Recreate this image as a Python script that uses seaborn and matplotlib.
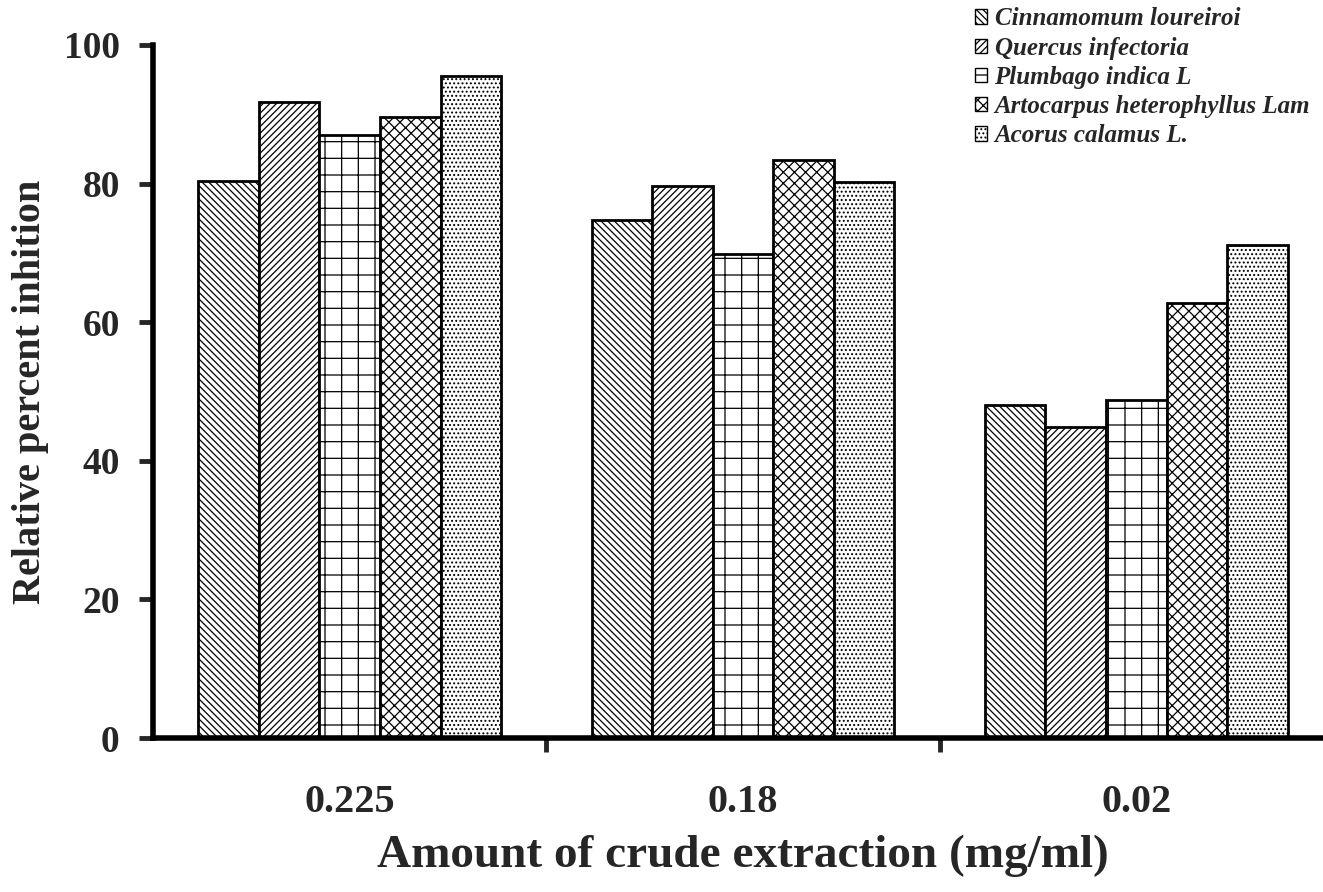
import numpy as np
import pandas as pd
import matplotlib
matplotlib.use('Agg')
import matplotlib.pyplot as plt
import seaborn as sns
from matplotlib.patches import Patch

# data
amounts = ['0.225', '0.18', '0.02']
species = ['Cinnamomum loureiroi', 'Quercus infectoria', 'Plumbago indica L',
           'Artocarpus heterophyllus Lam', 'Acorus calamus L.']
cinnamomum = [80.4, 74.7, 48.1]
quercus = [91.8, 79.7, 44.9]
plumbago = [87.0, 69.8, 48.8]
artocarpus = [89.6, 83.4, 62.8]
acorus = [95.5, 80.2, 71.1]

hatches = ['\\\\\\\\\\', '/////', '+', 'xxx', '....']

sns.set_theme(style='white')
plt.rcParams['font.family'] = ['Liberation Serif', 'DejaVu Serif']
plt.rcParams['hatch.linewidth'] = 0.9

values = [cinnamomum, quercus, plumbago, artocarpus, acorus]
df = pd.DataFrame({
    'amount': np.repeat([amounts], len(species), axis=0).ravel(),
    'species': np.repeat(species, len(amounts)),
    'value': np.concatenate(values),
})

fig = plt.figure(figsize=(13.23, 8.92), dpi=100)
ax = fig.add_axes([153 / 1323, 154 / 892, 1180 / 1323, 693 / 892])

sns.barplot(data=df, x='amount', y='value', hue='species', order=amounts,
            hue_order=species, color='white', saturation=1, width=0.77,
            edgecolor='black', linewidth=2, legend=False, ax=ax)
for cont, h in zip(ax.containers, hatches):
    for bar in cont:
        bar.set_facecolor('white')
        bar.set_hatch(h)

ax.set_xlim(-0.5, 2.5)
ax.set_ylim(0, 100)
ax.set_yticks([0, 20, 40, 60, 80, 100])
ax.set_xticks([0, 1, 2])
ax.set_xticklabels(amounts, fontsize=29, fontweight='bold')
for lab in ax.get_yticklabels():
    lab.set_fontsize(27)
    lab.set_fontweight('bold')
ax.tick_params(axis='x', length=0, pad=33)
ax.tick_params(axis='y', direction='out', length=10, width=3.5, left=True, pad=14)
# category boundary ticks on x axis
ax.set_xticks([0.5, 1.5], minor=True)
ax.tick_params(axis='x', which='minor', direction='out', length=10, width=3.5, bottom=True)

for s in ['top', 'right']:
    ax.spines[s].set_visible(False)
for s in ['left', 'bottom']:
    ax.spines[s].set_linewidth(4)
    ax.spines[s].set_color('black')

ax.set_xlabel('')
ax.set_ylabel('Relative percent inhition', fontsize=29, fontweight='bold')
ax.yaxis.set_label_coords(-0.088, 0.5)
fig.text(743 / 1323, 36 / 892, 'Amount of crude extraction (mg/ml)',
         fontsize=34, fontweight='bold', ha='center', va='center')

handles = [Patch(facecolor='white', edgecolor='black', hatch=h, label=s)
           for s, h in zip(species, hatches)]
fig.legend(handles=handles, loc='upper left', bbox_to_anchor=(962 / 1323, 1 + 5 / 892),
           frameon=False, borderpad=0, handlelength=0.5, handleheight=0.5,
           handletextpad=0.3, labelspacing=0.25,
           prop={'size': 18, 'weight': 'bold', 'style': 'italic'})

fig.savefig('out.png', dpi=100)
